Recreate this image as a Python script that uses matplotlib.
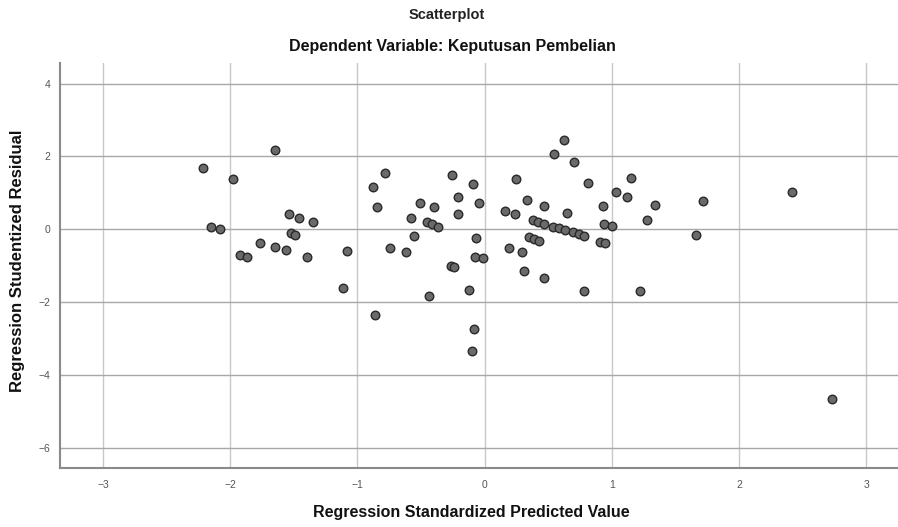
import matplotlib
matplotlib.use("Agg")
import matplotlib.pyplot as plt

plt.rcParams['font.family'] = ['Liberation Sans', 'DejaVu Sans']

title = "Scatterplot"
subtitle = "Dependent Variable: Keputusan Pembelian"
x_label = "Regression Standardized Predicted Value"
y_label = "Regression Studentized Residual"

x_ticks = [-3, -2, -1, 0, 1, 2, 3]
y_ticks = [-6, -4, -2, 0, 2, 4]

predicted = [
    -2.213, -1.977, -1.647, -2.150, -2.079, -1.922, -1.867, -1.765, -1.647, -1.561,
    -1.537, -1.458, -1.521, -1.490, -1.348, -1.395, -1.112, -1.081, -0.861, -0.877,
    -0.782, -0.845, -0.743, -0.617, -0.578, -0.554, -0.507, -0.397, -0.452, -0.413,
    -0.366, -0.436, -0.256, -0.090, -0.208, -0.043, -0.208, -0.067, -0.075, -0.012,
    -0.263, -0.240, -0.122, -0.083, -0.098, 0.248, 0.161, 0.240, 0.334, 0.468,
    0.649, 0.381, 0.421, 0.468, 0.539, 0.586, 0.633, 0.696, 0.743, 0.782,
    0.350, 0.389, 0.428, 0.193, 0.295, 0.311, 0.468, 0.625, 0.546, 0.704,
    0.814, 0.932, 0.939, 1.002, 0.908, 0.947, 0.782, 1.034, 1.120, 1.152,
    1.340, 1.278, 1.222, 1.663, 1.718, 2.417, 2.732,
]
residual = [
    1.679, 1.378, 2.173, 0.063, 0.008, -0.704, -0.759, -0.375, -0.485, -0.567,
    0.419, 0.310, -0.101, -0.156, 0.200, -0.759, -1.608, -0.595, -2.348, 1.159,
    1.542, 0.611, -0.512, -0.622, 0.310, -0.184, 0.721, 0.611, 0.200, 0.145,
    0.063, -1.827, 1.488, 1.241, 0.885, 0.721, 0.419, -0.238, -0.759, -0.786,
    -1.005, -1.033, -1.663, -2.732, -3.334, 1.378, 0.501, 0.419, 0.803, 0.638,
    0.447, 0.255, 0.200, 0.145, 0.063, 0.036, -0.019, -0.074, -0.129, -0.184,
    -0.211, -0.266, -0.321, -0.512, -0.622, -1.142, -1.334, 2.447, 2.063, 1.844,
    1.268, 0.638, 0.145, 0.090, -0.348, -0.375, -1.690, 1.022, 0.885, 1.405,
    0.666, 0.255, -1.690, -0.156, 0.775, 1.022, -4.649,
]

fig = plt.figure(figsize=(8.98, 5.27), dpi=100)
ax = fig.add_axes([0.0668, 0.112, 0.9332, 0.768])

ax.set_xlim(-3.338, 3.251)
ax.set_ylim(-6.54, 4.556)
ax.set_xticks(x_ticks)
ax.set_yticks(y_ticks)

for v in x_ticks:
    ax.axvline(v, color='#c8c8c8', lw=1.0, zorder=1)
for v in y_ticks:
    ax.axhline(v, color='#a8a8a8', lw=1.0, zorder=1)

ax.scatter(predicted, residual, s=38, facecolor='#6a6a6a', edgecolor='#2a2a2a',
           linewidths=1.0, zorder=3)

for s in ['top', 'right']:
    ax.spines[s].set_visible(False)
for s in ['left', 'bottom']:
    ax.spines[s].set_color('#8a8a8a')
    ax.spines[s].set_linewidth(1.5)

ax.tick_params(axis='both', length=0, labelsize=7.5, labelcolor='#555555')
ax.tick_params(axis='x', pad=9)
ax.tick_params(axis='y', pad=7)

fig.text(0.498, 0.972, title, ha='center', va='center', fontsize=10.5,
         fontweight='bold', color='#222222')
fig.text(0.504, 0.911, subtitle, ha='center', va='center', fontsize=11.5,
         fontweight='bold', color='#111111')
fig.text(0.525, 0.027, x_label, ha='center', va='center', fontsize=11.5,
         fontweight='bold', color='#111111')
fig.text(0.019, 0.505, y_label, ha='center', va='center', fontsize=12,
         fontweight='bold', color='#111111', rotation=90)

fig.savefig("out.png", dpi=100)
